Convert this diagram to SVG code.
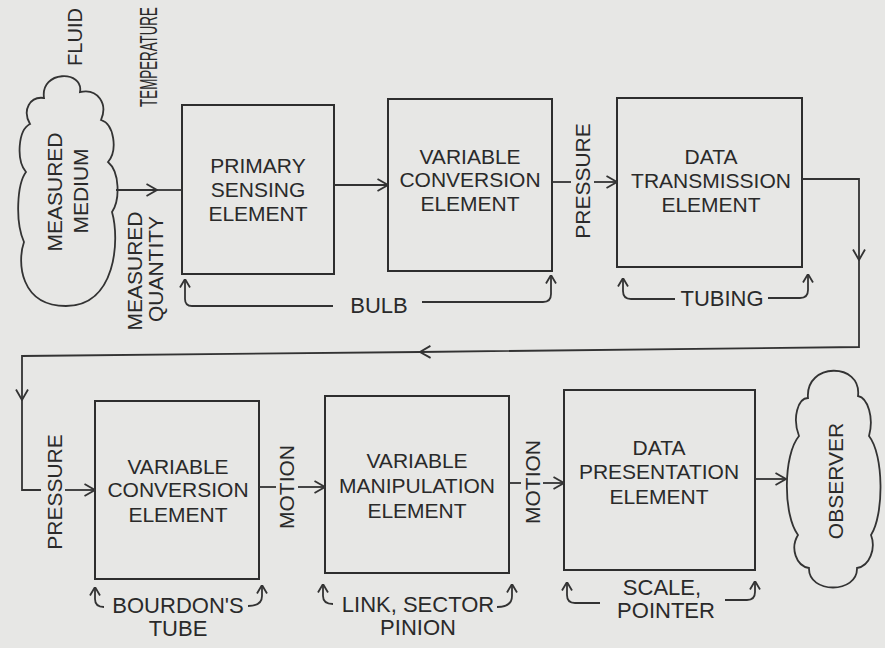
<svg xmlns="http://www.w3.org/2000/svg" width="885" height="648" viewBox="0 0 885 648">
<defs>
<style>
.bg{fill:#e7e7e5}
.box{fill:none;stroke:#2e2e2e;stroke-width:2}
.cloud{fill:none;stroke:#333;stroke-width:1.8}
.ln{fill:none;stroke:#333;stroke-width:1.8}
.t{font-family:"Liberation Sans",Arial,sans-serif;font-size:21px;fill:#2a2a2a;text-anchor:middle}
.l{font-family:"Liberation Sans",Arial,sans-serif;font-size:22px;fill:#2a2a2a;text-anchor:middle}
</style>
<marker id="ah" viewBox="0 0 12 14" refX="11.5" refY="7" markerWidth="12" markerHeight="14" markerUnits="userSpaceOnUse" orient="auto">
<path d="M1,1 L11.5,7 L1,13" fill="none" stroke="#333" stroke-width="1.8"/>
</marker>
<marker id="ahs" viewBox="0 0 10 12" refX="9.5" refY="6" markerWidth="10" markerHeight="12" markerUnits="userSpaceOnUse" orient="auto">
<path d="M1,1 L9.5,6 L1,11" fill="none" stroke="#333" stroke-width="1.8"/>
</marker>
</defs>
<rect class="bg" x="0" y="0" width="885" height="648"/>

<g id="measured-medium">
<path class="cloud" d="M44 98 C40 70 84 70 80 92 C98 88 108 104 101 120 C114 124 118 150 108 162 C120 172 120 200 112 212 C120 240 116 306 66 306 C20 306 17 262 24 242 C15 222 17 184 26 172 C16 160 18 130 30 124 C22 110 30 96 44 98 Z"/>
<text class="t" transform="translate(62,192) rotate(-90)">MEASURED</text>
<text class="t" transform="translate(88,191) rotate(-90)">MEDIUM</text>
</g>

<g id="primary-sensing">
<rect class="box" x="182" y="105" width="152" height="169"/>
<text class="t" x="258" y="173">PRIMARY</text>
<text class="t" x="258" y="197">SENSING</text>
<text class="t" x="258" y="221">ELEMENT</text>
</g>

<g id="variable-conversion-1">
<rect class="box" x="388" y="99" width="164" height="172"/>
<text class="t" x="470" y="164">VARIABLE</text>
<text class="t" x="470" y="187">CONVERSION</text>
<text class="t" x="470" y="211">ELEMENT</text>
</g>

<g id="data-transmission">
<rect class="box" x="617" y="98" width="185" height="169"/>
<text class="t" x="711" y="164">DATA</text>
<text class="t" x="711" y="188">TRANSMISSION</text>
<text class="t" x="711" y="212">ELEMENT</text>
</g>

<g id="variable-conversion-2">
<rect class="box" x="95" y="401" width="164" height="178"/>
<text class="t" x="178" y="474">VARIABLE</text>
<text class="t" x="178" y="497">CONVERSION</text>
<text class="t" x="178" y="522">ELEMENT</text>
</g>

<g id="variable-manipulation">
<rect class="box" x="325" y="396" width="184" height="177"/>
<text class="t" x="417" y="468">VARIABLE</text>
<text class="t" x="417" y="493">MANIPULATION</text>
<text class="t" x="417" y="518">ELEMENT</text>
</g>

<g id="data-presentation">
<rect class="box" x="564" y="390" width="191" height="180"/>
<text class="t" x="659" y="455">DATA</text>
<text class="t" x="659" y="479">PRESENTATION</text>
<text class="t" x="659" y="504">ELEMENT</text>
</g>

<g id="observer">
<path class="cloud" d="M808 398 C805 362 862 362 858 396 C868 398 874 418 869 436 C884 455 884 515 871 535 C876 548 870 566 857 568 C858 594 808 594 809 568 C796 566 790 548 798 535 C783 515 783 455 799 436 C792 418 798 398 808 398 Z"/>
<text class="t" transform="translate(843,481) rotate(-90)">OBSERVER</text>
</g>

<g id="connectors">
<path class="ln" d="M116 190 L157 190" marker-end="url(#ah)"/>
<path class="ln" d="M157 190 L182 190"/>
<path class="ln" d="M334 185 L388 185" marker-end="url(#ah)"/>
<path class="ln" d="M552 182 L571 182"/>
<path class="ln" d="M594 182 L617 182" marker-end="url(#ah)"/>
<path class="ln" d="M802 179 L859 179 L859 260" marker-end="url(#ah)"/>
<path class="ln" d="M859 260 L859 347 L420 352" marker-end="url(#ah)"/>
<path class="ln" d="M420 352 L22 356 L22 400" marker-end="url(#ah)"/>
<path class="ln" d="M22 400 L22 490 L41 490"/>
<path class="ln" d="M65 490 L95 490" marker-end="url(#ah)"/>
<path class="ln" d="M259 487 L276 487"/>
<path class="ln" d="M298 487 L325 487" marker-end="url(#ah)"/>
<path class="ln" d="M509 483 L521 483"/>
<path class="ln" d="M543 483 L564 483" marker-end="url(#ah)"/>
<path class="ln" d="M755 479 L786 479" marker-end="url(#ah)"/>
<path class="ln" d="M333 306 L192 306 Q185 306 185 299 L185 279" marker-end="url(#ahs)"/>
<path class="ln" d="M422 302 L543 302 Q551 302 551 294 L551 275" marker-end="url(#ahs)"/>
<path class="ln" d="M675 299 L631 299 Q623 299 623 291 L623 278" marker-end="url(#ahs)"/>
<path class="ln" d="M768 298 L800 298 Q808 298 808 290 L808 274" marker-end="url(#ahs)"/>
<path class="ln" d="M104 607 Q95 607 95 599 L95 587" marker-end="url(#ahs)"/>
<path class="ln" d="M248 606 Q262 606 262 596 L262 585" marker-end="url(#ahs)"/>
<path class="ln" d="M333 604 Q323 604 323 596 L323 584" marker-end="url(#ahs)"/>
<path class="ln" d="M497 607 Q512 607 512 596 L512 584" marker-end="url(#ahs)"/>
<path class="ln" d="M600 603 L575 603 Q567 603 567 595 L567 582" marker-end="url(#ahs)"/>
<path class="ln" d="M725 600 L747 600 Q755 600 755 592 L755 581" marker-end="url(#ahs)"/>
</g>

<g id="labels">
<text class="t" style="font-size:20px" transform="translate(82,37) rotate(-90)">FLUID</text>
<text class="t" style="font-size:23px" transform="translate(157,57) rotate(-90) scale(0.58,1)">TEMPERATURE</text>
<text class="t" transform="translate(142,271) rotate(-90)">MEASURED</text>
<text class="t" transform="translate(163,269) rotate(-90)">QUANTITY</text>
<text class="t" transform="translate(590,181) rotate(-90)">PRESSURE</text>
<text class="t" transform="translate(62,492) rotate(-90)">PRESSURE</text>
<text class="t" transform="translate(294,487) rotate(-90)">MOTION</text>
<text class="t" transform="translate(540,482) rotate(-90)">MOTION</text>
<text class="l" x="379" y="313">BULB</text>
<text class="l" x="722" y="306">TUBING</text>
<text class="l" x="178" y="613">BOURDON'S</text>
<text class="l" x="178" y="636">TUBE</text>
<text class="l" x="418" y="612">LINK, SECTOR</text>
<text class="l" x="418" y="635">PINION</text>
<text class="l" x="662" y="595">SCALE,</text>
<text class="l" x="666" y="618">POINTER</text>
</g>
</svg>
